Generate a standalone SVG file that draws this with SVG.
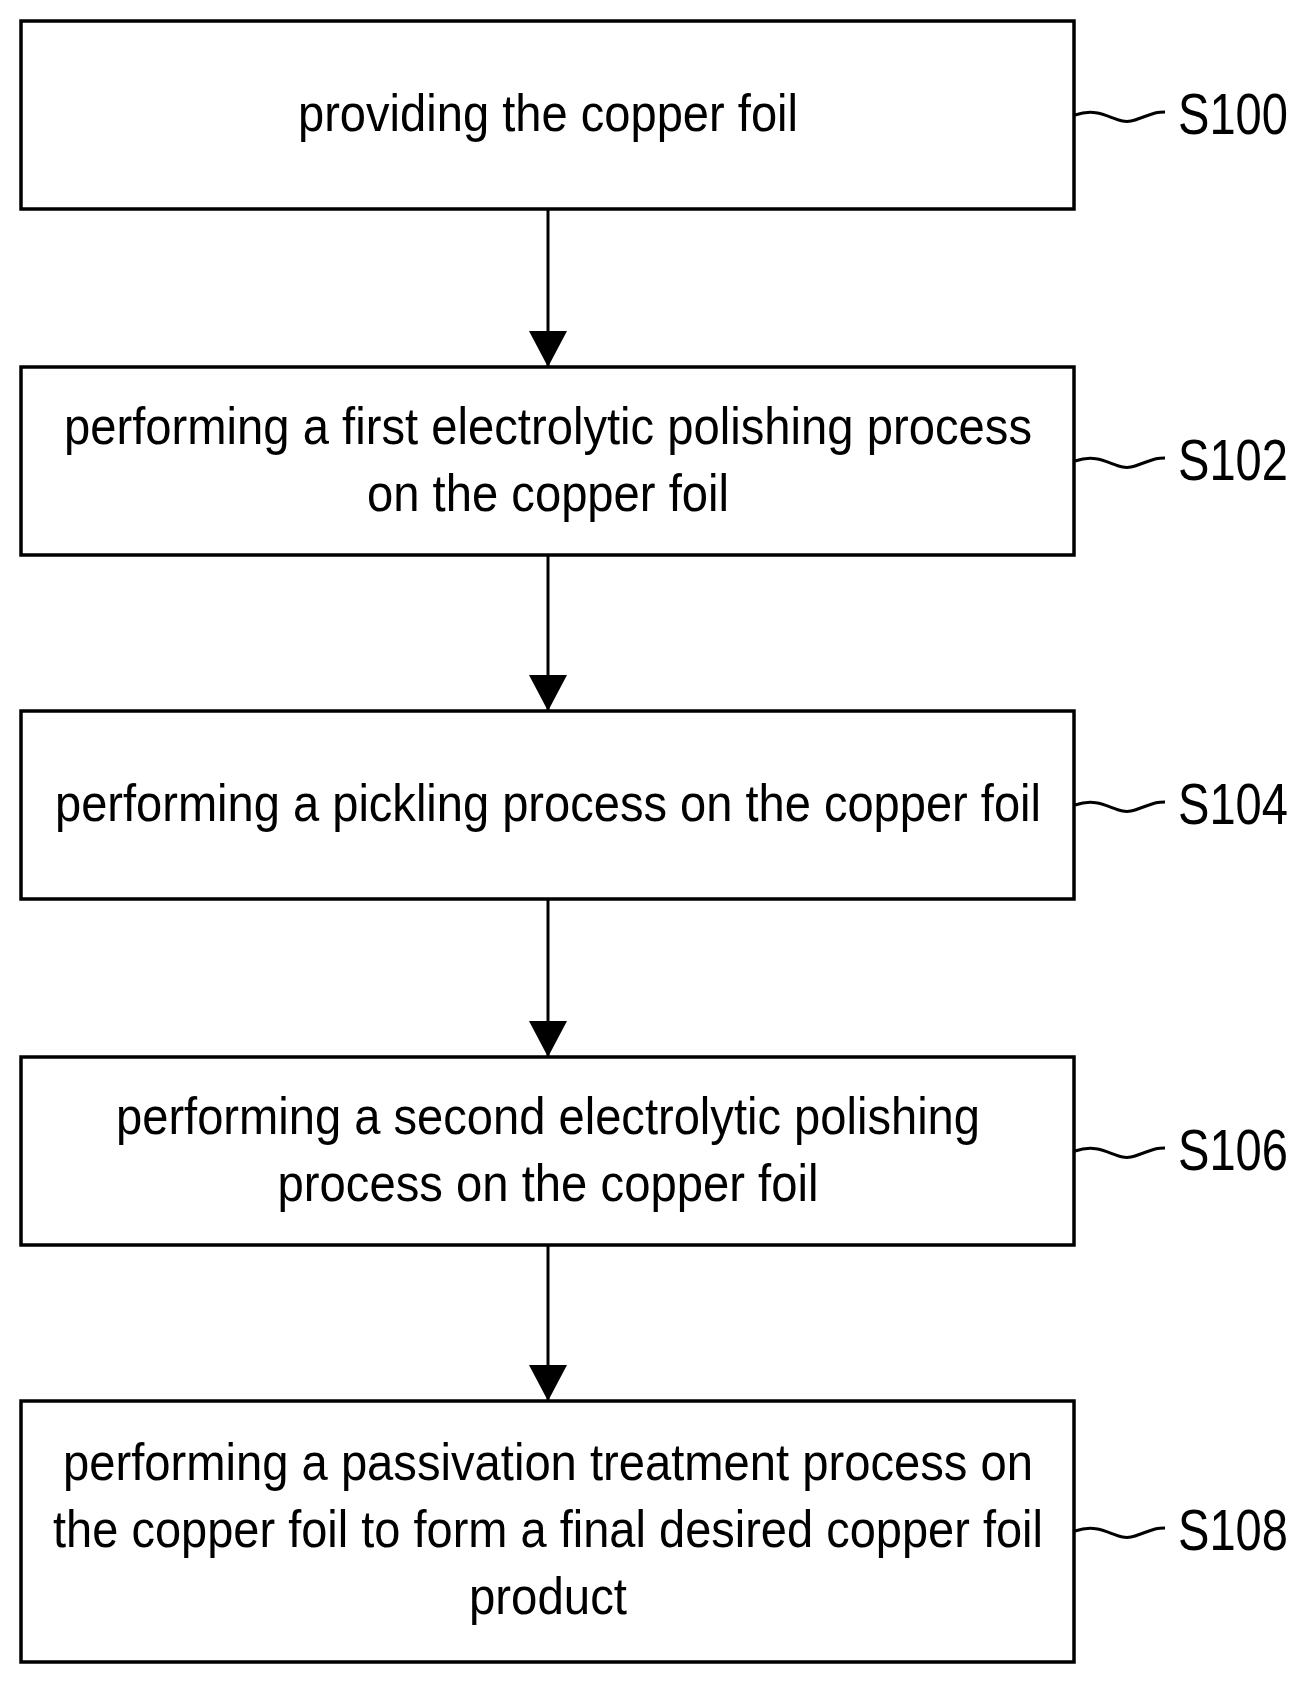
<svg xmlns="http://www.w3.org/2000/svg" width="1312" height="1686" viewBox="0 0 1312 1686">
<defs><style>
.b{fill:#fff;stroke:#000;stroke-width:3.5}
.t{font-family:"Liberation Sans",Arial,sans-serif;font-size:52px;text-anchor:middle;fill:#000}
.l{font-family:"Liberation Sans",Arial,sans-serif;font-size:58px;fill:#000}
.c{fill:none;stroke:#000;stroke-width:3}
</style>
<marker id="a" markerWidth="36" markerHeight="38" refX="36" refY="19" orient="auto" markerUnits="userSpaceOnUse"><path d="M0,0 L36,19 L0,38 Z" fill="#000"/></marker></defs>
<rect width="1312" height="1686" fill="#fff"/>
<g id="n1"><rect class="b" x="21" y="21" width="1053" height="188"/><text class="t" x="548" y="131" textLength="500" lengthAdjust="spacingAndGlyphs">providing the copper foil</text><path class="c" d="M1075,115 c30,-10 40,12 60,5 s20,-8 30,-8"/><text class="l" x="1178" y="134" textLength="110" lengthAdjust="spacingAndGlyphs">S100</text></g>
<g id="n2"><rect class="b" x="21" y="367" width="1053" height="188"/><text class="t" x="548" y="444" textLength="968" lengthAdjust="spacingAndGlyphs">performing a first electrolytic polishing process</text><text class="t" x="548" y="511" textLength="362" lengthAdjust="spacingAndGlyphs">on the copper foil</text><path class="c" d="M1075,461 c30,-10 40,12 60,5 s20,-8 30,-8"/><text class="l" x="1178" y="480" textLength="110" lengthAdjust="spacingAndGlyphs">S102</text></g>
<g id="n3"><rect class="b" x="21" y="711" width="1053" height="188"/><text class="t" x="548" y="821" textLength="986" lengthAdjust="spacingAndGlyphs">performing a pickling process on the copper foil</text><path class="c" d="M1075,805 c30,-10 40,12 60,5 s20,-8 30,-8"/><text class="l" x="1178" y="824" textLength="110" lengthAdjust="spacingAndGlyphs">S104</text></g>
<g id="n4"><rect class="b" x="21" y="1057" width="1053" height="188"/><text class="t" x="548" y="1134" textLength="864" lengthAdjust="spacingAndGlyphs">performing a second electrolytic polishing</text><text class="t" x="548" y="1201" textLength="541" lengthAdjust="spacingAndGlyphs">process on the copper foil</text><path class="c" d="M1075,1151 c30,-10 40,12 60,5 s20,-8 30,-8"/><text class="l" x="1178" y="1170" textLength="110" lengthAdjust="spacingAndGlyphs">S106</text></g>
<g id="n5"><rect class="b" x="21" y="1401" width="1053" height="261"/><text class="t" x="548" y="1480" textLength="970" lengthAdjust="spacingAndGlyphs">performing a passivation treatment process on</text><text class="t" x="548" y="1547" textLength="990" lengthAdjust="spacingAndGlyphs">the copper foil to form a final desired copper foil</text><text class="t" x="548" y="1614" textLength="158" lengthAdjust="spacingAndGlyphs">product</text><path class="c" d="M1075,1531 c30,-10 40,12 60,5 s20,-8 30,-8"/><text class="l" x="1178" y="1550" textLength="110" lengthAdjust="spacingAndGlyphs">S108</text></g>
<g id="connectors" stroke="#000" stroke-width="3">
<line x1="548" y1="209" x2="548" y2="367" marker-end="url(#a)"/>
<line x1="548" y1="555" x2="548" y2="711" marker-end="url(#a)"/>
<line x1="548" y1="899" x2="548" y2="1057" marker-end="url(#a)"/>
<line x1="548" y1="1245" x2="548" y2="1401" marker-end="url(#a)"/>
</g>
</svg>
